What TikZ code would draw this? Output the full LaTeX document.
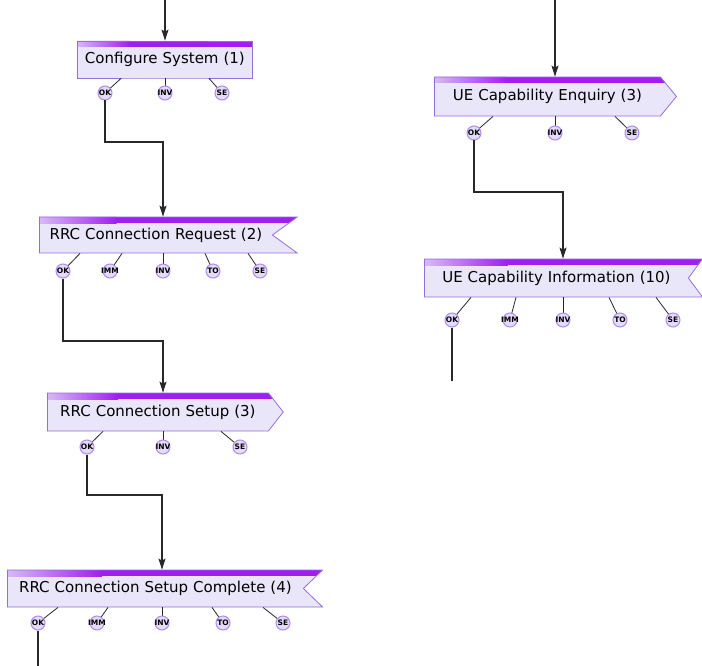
\documentclass[tikz,border=0pt]{standalone}
\usepackage{fontspec}
\setmainfont{DejaVu Sans}
\usetikzlibrary{shapes.symbols,arrows.meta,calc}
\definecolor{boxfill}{RGB}{234,230,250}
\definecolor{boxline}{RGB}{150,110,220}
\definecolor{barL}{RGB}{215,185,245}
\definecolor{barR}{RGB}{160,30,240}
\definecolor{portfill}{RGB}{228,218,250}
\definecolor{portline}{RGB}{175,140,235}
\definecolor{wirecol}{RGB}{40,40,40}
\begin{document}
\begin{tikzpicture}[x=1pt,y=-1pt,
    >={Stealth[length=11pt,width=7pt,inset=2pt]},
    state/.style={signal,draw=boxline,fill=boxfill,line width=0.8pt,
      anchor=west,inner xsep=0pt,align=center,
      font=\fontsize{15}{18}\selectfont,
      path picture={
        \fill[barR] (path picture bounding box.north west) rectangle
          ($(path picture bounding box.north east)+(0,-6pt)$);
        \shade[left color=barL,right color=barR]
          (path picture bounding box.north west) rectangle
          ($(path picture bounding box.north west)!0.3!(path picture bounding box.north east)+(0,-6pt)$);
      }},
    port/.style={circle,draw=portline,fill=portfill,line width=1pt,
      minimum size=14pt,inner sep=0pt,
      font=\fontsize{7.5}{7.5}\selectfont\bfseries},
    wire/.style={draw=wirecol,line width=1.1pt}]
  \fill[white] (0,0) rectangle (702,666);
  \useasboundingbox (0,0) rectangle (702,666);

  % Configure System
  \node[state,signal to=nowhere,text width=175pt,minimum height=37pt]
    (cfg) at (77,59.5) {Configure System (1)};
  \foreach \lab/\px/\sx in {OK/105/121,INV/165/165,SE/222/209}{
    \draw[wire,line width=0.8pt] (cfg.south -| \sx,0) -- (\px,93);
    \node[port] (cfg\lab) at (\px,93) {\makebox[0pt]{\lab}};
  }

  % RRC Connection Request
  \node[state,signal to=nowhere,signal from=east,signal pointer angle=72,
    text width=233pt,minimum height=36pt]
    (req) at (39,235) {RRC Connection Request (2)};
  \foreach \lab/\px/\sx in {OK/63/80,IMM/110/122,INV/163/163,TO/213/205,SE/260/248}{
    \draw[wire,line width=0.8pt] (req.south -| \sx,0) -- (\px,271);
    \node[port] (req\lab) at (\px,271) {\makebox[0pt]{\lab}};
  }

  % RRC Connection Setup
  \node[state,signal to=east,signal pointer angle=104,
    text width=221pt,minimum height=38pt]
    (setup) at (47,412) {RRC Connection Setup (3)};
  \foreach \lab/\px/\sx in {OK/87/103,INV/163/163,SE/240/221}{
    \draw[wire,line width=0.8pt] (setup.south -| \sx,0) -- (\px,447);
    \node[port] (setup\lab) at (\px,447) {\makebox[0pt]{\lab}};
  }

  % RRC Connection Setup Complete
  \node[state,signal to=nowhere,signal from=east,signal pointer angle=88,
    text width=296pt,minimum height=37pt]
    (cmp) at (7,588.5) {RRC Connection Setup Complete (4)};
  \foreach \lab/\px/\sx in {OK/38/58,IMM/97/108,INV/162/162,TO/223/212,SE/283/263}{
    \draw[wire,line width=0.8pt] (cmp.south -| \sx,0) -- (\px,623);
    \node[port] (cmp\lab) at (\px,623) {\makebox[0pt]{\lab}};
  }

  % UE Capability Enquiry
  \node[state,signal to=east,signal pointer angle=101,
    text width=226pt,minimum height=39pt]
    (enq) at (434,96.5) {UE Capability Enquiry (3)};
  \foreach \lab/\px/\sx in {OK/474/493,INV/555/555,SE/632/615}{
    \draw[wire,line width=0.8pt] (enq.south -| \sx,0) -- (\px,133);
    \node[port] (enq\lab) at (\px,133) {\makebox[0pt]{\lab}};
  }

  % UE Capability Information
  \node[state,signal to=nowhere,signal from=east,signal pointer angle=107,
    text width=264pt,minimum height=38pt]
    (inf) at (424,278) {UE Capability Information (10)};
  \foreach \lab/\px/\sx in {OK/452/471,IMM/510/516,INV/563/563,TO/620/609,SE/673/656}{
    \draw[wire,line width=0.8pt] (inf.south -| \sx,0) -- (\px,320);
    \node[port] (inf\lab) at (\px,320) {\makebox[0pt]{\lab}};
  }

  % Verbindungen
  \coordinate (topL) at (165,0);
  \coordinate (topR) at (555,0);
  \coordinate (endL) at (0,666);
  \coordinate (endR) at (0,381);
  \draw[wire,->] (topL) -- (cfg.north -| cfgINV);
  \draw[wire,->] (cfgOK) -- (cfgOK |- 0,142) -| (req.north -| reqINV);
  \draw[wire,->] (reqOK) -- (reqOK |- 0,341) -| (setup.north -| setupINV);
  \draw[wire,->] (setupOK) -- (setupOK |- 0,495) -| (cmp.north -| cmpINV);
  \draw[wire] (cmpOK) -- (cmpOK |- endL);
  \draw[wire,->] (topR) -- (enq.north -| enqINV);
  \draw[wire,->] (enqOK) -- (enqOK |- 0,192) -| (inf.north -| infINV);
  \draw[wire] (infOK) -- (infOK |- endR);
\end{tikzpicture}
\end{document}
